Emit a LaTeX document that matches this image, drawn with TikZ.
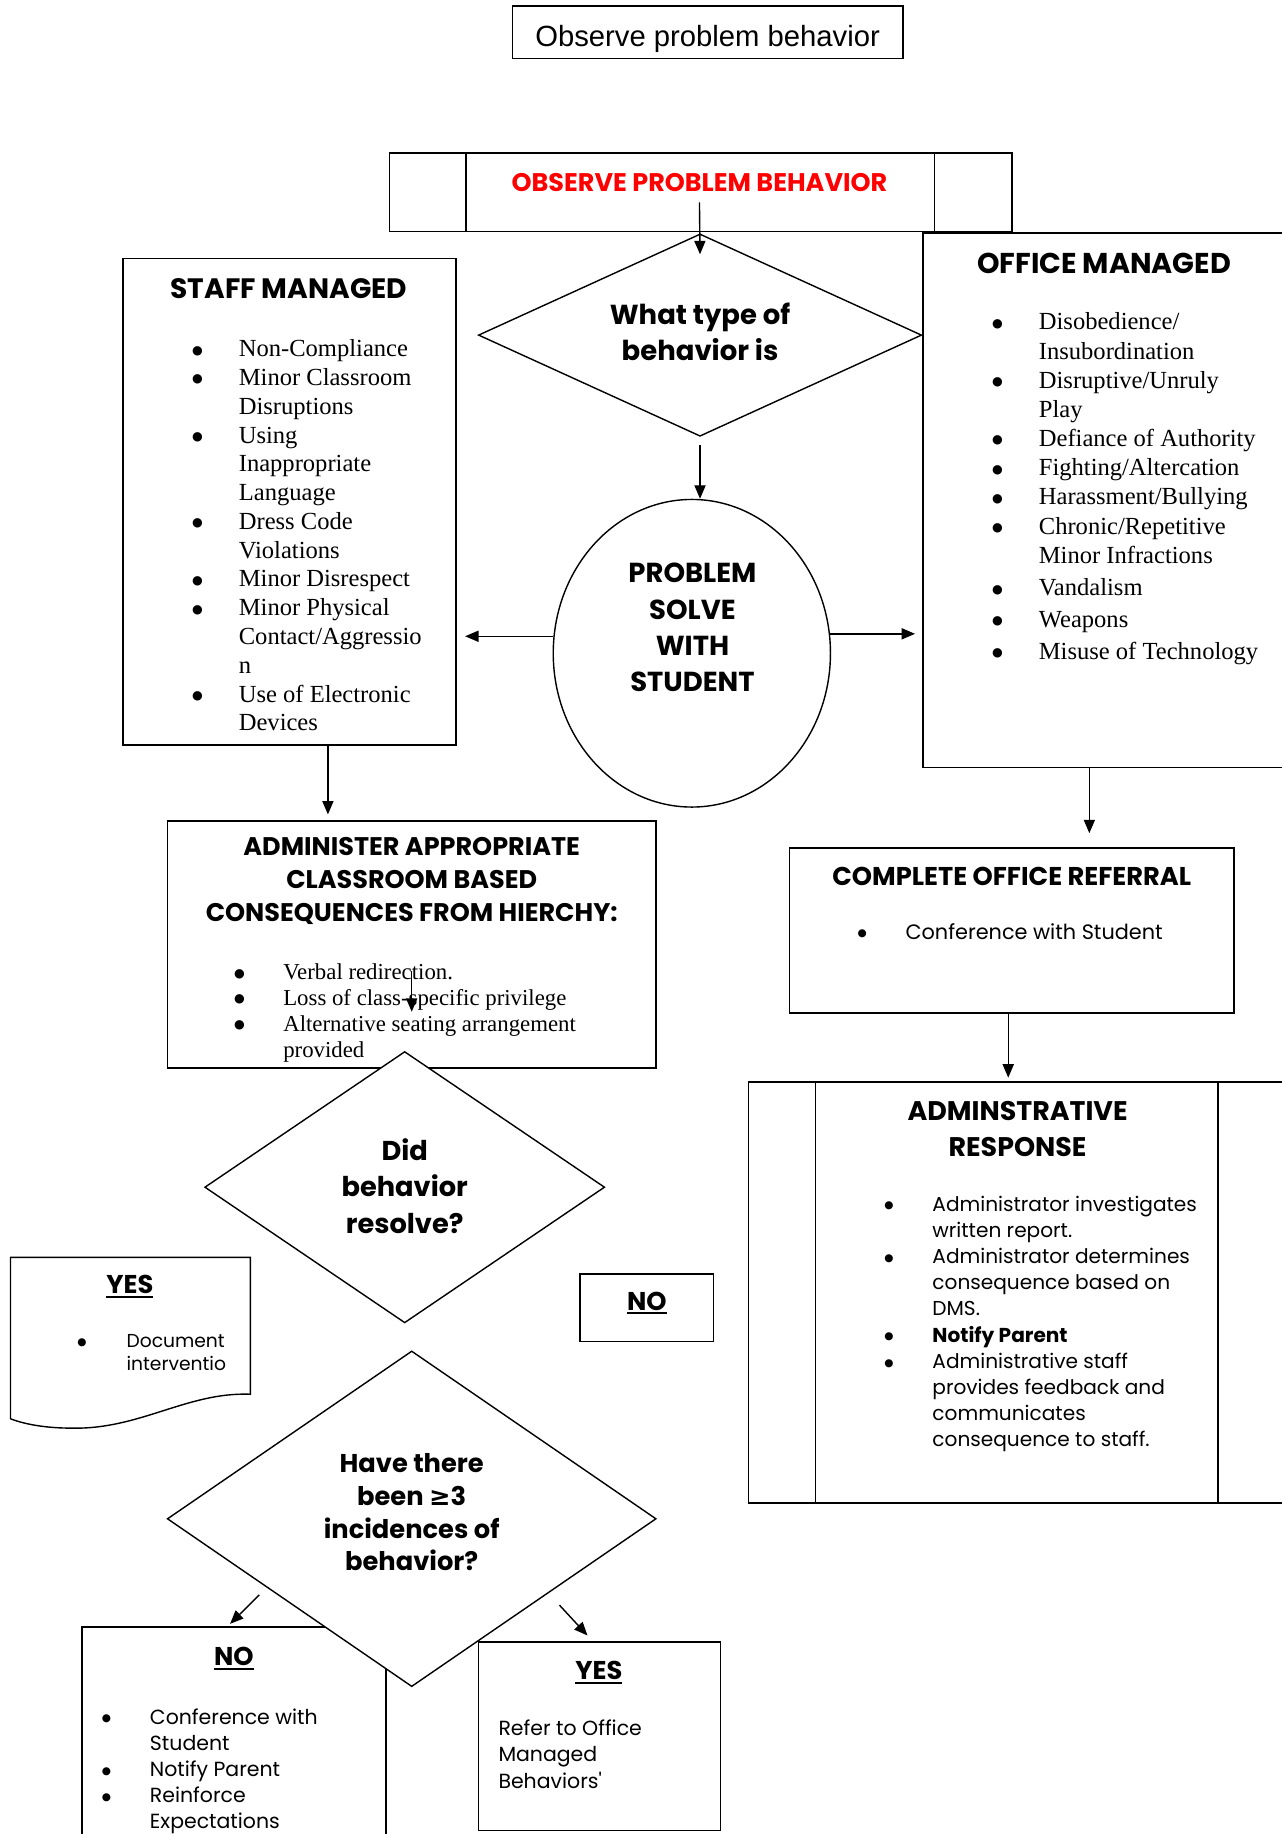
\documentclass[tikz,border=0pt]{standalone}
\usepackage{fontspec}
\setmainfont{Liberation Serif}
\newfontfamily\gothic{Poppins}
\newfontfamily\arialf{Liberation Sans}
\newfontfamily\dejav{DejaVu Sans}
\usetikzlibrary{shapes.geometric,arrows.meta}
\newcommand\ulx[1]{\setbox0\hbox{#1}\rlap{\rule[-3.5pt]{\wd0}{1.8pt}}\box0}
\newcommand\bul{\raisebox{2.2pt}{\dejav\fontsize{10.5}{0}\selectfont ●}}
\newcommand\bus{\raisebox{2pt}{\dejav\fontsize{9}{0}\selectfont ●}}
\tikzset{
  box/.style={draw, line width=1.3pt, inner sep=0pt},
  thinl/.style={line width=1.1pt},
  conn/.style={-{Triangle[length=11.5pt,width=9.5pt]}, line width=1.2pt},
  hd/.style={font=\gothic\bfseries\fontsize{22}{31}\selectfont, align=center, inner sep=0pt},
  dia/.style={draw, shape=diamond, fill=white, line width=1.2pt, inner sep=0pt},
  serifl/.style={inner sep=0pt, anchor=base west, font=\fontsize{21}{24.6}\selectfont},
  sansl/.style={inner sep=0pt, anchor=base west, font=\gothic\fontsize{17.5}{22.4}\selectfont},
}
\begin{document}
\begin{tikzpicture}[x=1pt,y=-1pt]
\useasboundingbox (0,0) rectangle (1096,1568);
\clip (0,0) rectangle (1096,1568);
\fill[white] (0,0) rectangle (1096,1568);

% top box
\node[box, line width=1.2pt, minimum width=334, minimum height=45, text height=25pt, text depth=0pt, font=\arialf\fontsize{25}{30}\selectfont] (top) at (605,27.5) {Observe problem behavior};

% header
\node[box, minimum width=532, minimum height=67] (hdr) at (599,164.5) {};
\draw[thinl] ([xshift=66pt]hdr.north west) -- ([xshift=66pt]hdr.south west);
\draw[thinl] ([xshift=-67pt]hdr.north east) -- ([xshift=-67pt]hdr.south east);
\node[hd, text=red, font=\gothic\bfseries\fontsize{21.8}{25}\selectfont] (hdrt) at (598,156) {OBSERVE PROBLEM BEHAVIOR};

% office managed
\node[box, minimum width=400, minimum height=457] (office) at (989,427.5) {};
\node[hd, font=\gothic\bfseries\fontsize{24.5}{31}\selectfont] (offt) at (944,225) {OFFICE MANAGED};
\node[serifl, font=\fontsize{21}{24.95}\selectfont] (offl) at (848,282) {\begin{tabular}[t]{@{}p{40pt}@{}l@{}}
\bul & Disobedience/\\
 & Insubordination\\
\bul & Disruptive/Unruly\\
 & Play\\
\bul & Defiance of Authority\\
\bul & Fighting/Altercation\\
\bul & Harassment/Bullying\\
\bul & Chronic/Repetitive\\
 & Minor Infractions\\[3pt]
\bul & Vandalism\\[2pt]
\bul & Weapons\\[2pt]
\bul & Misuse of Technology
\end{tabular}};

% staff managed
\node[box, minimum width=285, minimum height=416] (staff) at (247.5,429) {};
\node[hd, font=\gothic\bfseries\fontsize{24}{31}\selectfont] (stafft) at (247,247) {STAFF MANAGED};
\node[serifl] (staffl) at (164,305) {\begin{tabular}[t]{@{}p{40pt}@{}l@{}}
\bul & Non-Compliance\\
\bul & Minor Classroom\\
 & Disruptions\\
\bul & Using\\
 & Inappropriate\\
 & Language\\
\bul & Dress Code\\
 & Violations\\
\bul & Minor Disrespect\\
\bul & Minor Physical\\
 & Contact/Aggressio\\
 & n\\
\bul & Use of Electronic\\
 & Devices
\end{tabular}};

% decision 1
\node[dia, minimum width=379, minimum height=173] (q1) at (598.5,286.5) {};
\node[hd, font=\gothic\bfseries\fontsize{23.5}{31}\selectfont] (q1t) at (598.5,283.5) {What type of\\behavior is};
\draw[conn] ([yshift=-9pt]hdrt.south) -- ([yshift=-18pt]q1.north);

% problem solve
\node[draw, ellipse, line width=1.2pt, minimum width=237, minimum height=263, inner sep=0pt] (ps) at (591.5,558.5) {};
\node[hd, font=\gothic\bfseries\fontsize{23.5}{31}\selectfont] (pst) at (592,536.5) {PROBLEM\\SOLVE\\WITH\\STUDENT};
\draw[conn, shorten >=7pt] ([yshift=-7pt]q1.south) -- ([yshift=-7pt]q1.south |- ps.north);
\draw[conn, shorten >=7pt] (ps.173) -- (ps.173 -| staff.east);
\draw[conn, shorten >=6pt] (ps.8) -- (ps.8 -| office.west);

% administer
\node[box, minimum width=418, minimum height=211] (admin) at (352,807.5) {};
\node[hd, font=\gothic\bfseries\fontsize{21.8}{28}\selectfont] (admint) at (352,753) {ADMINISTER APPROPRIATE\\CLASSROOM BASED\\CONSEQUENCES FROM HIERCHY:};
\node[serifl, font=\fontsize{19.5}{22.2}\selectfont] (adminl) at (200,837.5) {\begin{tabular}[t]{@{}p{42pt}@{}l@{}}
\bul & Verbal redirection.\\
\bul & Loss of class-specific privilege\\
\bul & Alternative seating arrangement\\
 & provided
\end{tabular}};
\draw[conn, shorten >=5pt] ([xshift=176pt]staff.south west) -- ([xshift=176pt]staff.south west |- admin.north);
\draw[conn] ([yshift=-22.5pt]admin.center) -- ([yshift=-57.5pt]admin.center);

% decision 2
\node[dia, minimum width=342, minimum height=232] (q2) at (346,1015) {};
\node[hd, font=\gothic\bfseries\fontsize{23.3}{31}\selectfont] (q2t) at (346,1014) {Did\\behavior\\resolve?};

% yes document
\draw[line width=1.2pt, fill=white] (9,1075) -- (214,1075) -- (214,1192) .. controls (160,1190) and (120,1222) .. (62,1221) .. controls (40,1221) and (22,1218) .. (9,1213) -- cycle;
\node[hd] (yes1) at (111,1100) {\ulx{YES}};
\node[sansl, font=\gothic\fontsize{16}{20}\selectfont] (yes1l) at (66,1152) {\begin{tabular}[t]{@{}p{42pt}@{}l@{}}
\bus & Document\\
 & interventio
\end{tabular}};

% no (middle)
\node[box, minimum width=114, minimum height=58] (no1) at (553,1118) {};
\node[hd] (no1t) at (553,1114) {\ulx{NO}};

% bottom boxes
\node[box, minimum width=260, minimum height=240] (nob) at (200,1511) {};
\node[box, minimum width=207, minimum height=161] (yesb) at (512.5,1484.5) {};
\node[dia, minimum width=418, minimum height=287] (q3) at (352,1298.5) {};
\node[hd, font=\gothic\bfseries\fontsize{22}{28}\selectfont] (q3t) at (352,1293) {Have there\\been {\dejav\bfseries ≥}3\\incidences of\\behavior?};
\node[hd] (nobt) at (200,1418) {\ulx{NO}};
\node[sansl] (nobl) at (87,1474) {\begin{tabular}[t]{@{}p{41pt}@{}l@{}}
\bus & Conference with\\
 & Student\\
\bus & Notify Parent\\
\bus & Reinforce\\
 & Expectations
\end{tabular}};
\node[hd] (yesbt) at (512,1430) {\ulx{YES}};
\node[sansl] (yesbl) at (426,1484) {\begin{tabular}[t]{@{}l@{}}Refer to Office\\Managed\\Behaviors'\end{tabular}};
\draw[conn] ([xshift=-25.5pt,yshift=7pt]q3.south west) -- ([xshift=-50.5pt,yshift=-17.75pt]q3.south west);
\draw[conn] ([xshift=21.5pt,yshift=-1.75pt]q3.south east) -- ([xshift=45.5pt,yshift=-27.75pt]q3.south east);

% complete office referral
\node[box, minimum width=380, minimum height=141] (ref) at (865,795.5) {};
\node[hd] (reft) at (865,749) {COMPLETE OFFICE REFERRAL};
\node[sansl, font=\gothic\fontsize{17.8}{22.4}\selectfont] (refl) at (733,803) {\begin{tabular}[t]{@{}p{41pt}@{}l@{}}
\bus & Conference with Student
\end{tabular}};
\draw[conn, shorten >=12pt] ([xshift=143pt]office.south west) -- ([xshift=143pt]office.south west |- ref.north);

% administrative response
\node[box, minimum width=520, minimum height=360] (resp) at (900,1105) {};
\draw[thinl] ([xshift=58pt]resp.north west) -- ([xshift=58pt]resp.south west);
\draw[thinl] ([xshift=402pt]resp.north west) -- ([xshift=402pt]resp.south west);
\node[hd, font=\gothic\bfseries\fontsize{23}{31}\selectfont] (respt) at (870,965.5) {ADMINSTRATIVE\\RESPONSE};
\node[sansl, font=\gothic\fontsize{17.2}{22.4}\selectfont] (respl) at (756,1035.5) {\begin{tabular}[t]{@{}p{41pt}@{}l@{}}
\bus & Administrator investigates\\
 & written report.\\
\bus & Administrator determines\\
 & consequence based on\\
 & DMS.\\
\bus & \textbf{Notify Parent}\\
\bus & Administrative staff\\
 & provides feedback and\\
 & communicates\\
 & consequence to staff.
\end{tabular}};
\draw[conn, shorten >=3pt] ([xshift=-3pt]ref.south) -- ([xshift=-3pt]ref.south |- resp.north);
\end{tikzpicture}
\end{document}
